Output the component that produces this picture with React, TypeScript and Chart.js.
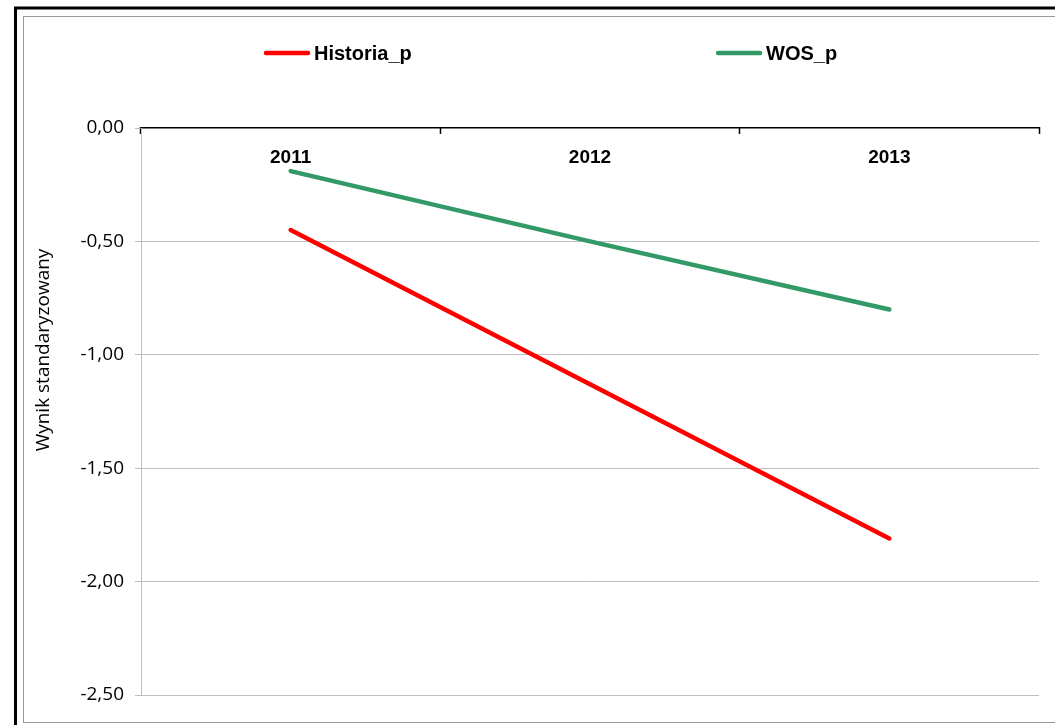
import React, { useEffect, useRef } from "react";
import { Chart, registerables } from "chart.js";

Chart.register(...registerables);

const categories = ["2011", "2012", "2013"];
const historiaP = [-0.45, -1.13, -1.81];
const wosP = [-0.19, -0.5, -0.8];
const seriesNames = ["Historia_p", "WOS_p"];
const seriesColors = ["#FF0000", "#339966"];
const yMin = -2.5;
const yMax = 0;
const yStep = 0.5;
const yAxisTitle = "Wynik standaryzowany";

const legendItemX = [264, 716];
const legendY = 53;
const legendLineLength = 46;

const framePlugin = {
  id: "frame",
  beforeDraw(chart: any) {
    const ctx = chart.ctx;
    ctx.save();
    ctx.fillStyle = "#fff";
    ctx.fillRect(0, 0, chart.width, chart.height);
    ctx.strokeStyle = "#000";
    ctx.lineWidth = 3;
    ctx.strokeRect(15.5, 8, chart.width + 50, chart.height + 50);
    ctx.strokeStyle = "#999";
    ctx.lineWidth = 1;
    ctx.strokeRect(23.5, 16.5, chart.width + 50, 706);
    ctx.restore();
  },
};

const legendPlugin = {
  id: "customLegend",
  afterDraw(chart: any) {
    const ctx = chart.ctx;
    chart.data.datasets.forEach((ds: any, i: number) => {
      const x = legendItemX[i];
      ctx.save();
      ctx.strokeStyle = ds.borderColor;
      ctx.lineWidth = 4.5;
      ctx.lineCap = "round";
      ctx.beginPath();
      ctx.moveTo(x + 2, legendY);
      ctx.lineTo(x + legendLineLength - 2, legendY);
      ctx.stroke();
      ctx.fillStyle = "#000";
      ctx.font = 'bold 20px "Liberation Sans", Arial, sans-serif';
      ctx.textBaseline = "middle";
      ctx.textAlign = "left";
      ctx.fillText(ds.label, x + legendLineLength + 4, legendY + 1);
      ctx.restore();
    });
  },
};

const yTitlePlugin = {
  id: "yTitle",
  afterDraw(chart: any) {
    const ctx = chart.ctx;
    ctx.save();
    ctx.translate(44, 350);
    ctx.rotate(-Math.PI / 2);
    ctx.fillStyle = "#000";
    ctx.font = '19px "Open Sans", sans-serif';
    ctx.textAlign = "center";
    ctx.textBaseline = "middle";
    ctx.fillText(yAxisTitle, 0, 0);
    ctx.restore();
  },
};

export default function App() {
  const canvasRef = useRef<HTMLCanvasElement | null>(null);

  useEffect(() => {
    if (!canvasRef.current) return;
    const chart = new Chart(canvasRef.current, {
      type: "line",
      data: {
        labels: categories,
        datasets: [
          {
            label: seriesNames[0],
            data: historiaP,
            borderColor: seriesColors[0],
            backgroundColor: seriesColors[0],
          },
          {
            label: seriesNames[1],
            data: wosP,
            borderColor: seriesColors[1],
            backgroundColor: seriesColors[1],
          },
        ],
      },
      options: {
        responsive: false,
        animation: false,
        layout: { padding: { left: 0, right: 16, top: 0, bottom: 30 } },
        plugins: {
          legend: { display: false },
          tooltip: { enabled: false },
        },
        elements: {
          point: { radius: 0 },
          line: {
            tension: 0,
            borderWidth: 4.5,
            borderCapStyle: "round",
            borderJoinStyle: "round",
          },
        },
        scales: {
          x: {
            type: "category",
            position: "top",
            offset: true,
            grid: {
              offset: true,
              drawOnChartArea: false,
              drawTicks: true,
              tickLength: -6,
              tickColor: "#000",
              tickWidth: 1.5,
            },
            border: { display: true, color: "#000", width: 1.5 },
            ticks: {
              mirror: true,
              padding: 18,
              color: "#000",
              autoSkip: false,
              maxRotation: 0,
              font: { family: '"Liberation Sans", Arial, sans-serif', size: 19, weight: "bold" },
            },
            afterFit: (s: any) => {
              s.height = 128;
            },
          },
          y: {
            min: yMin,
            max: yMax,
            ticks: {
              stepSize: yStep,
              padding: 11,
              color: "#000",
              font: { family: '"Open Sans", sans-serif', size: 19 },
              callback: (v: any) => Number(v).toFixed(2).replace(".", ","),
            },
            grid: {
              color: (c: any) =>
                c.tick && Math.abs(c.tick.value) < 1e-9 ? "rgba(0,0,0,0)" : "#BFBFBF",
              tickColor: "#BFBFBF",
              tickLength: 6,
              lineWidth: 1,
            },
            border: { color: "#BFBFBF", width: 1 },
            afterFit: (s: any) => {
              s.width = 141;
            },
          },
        },
      } as any,
      plugins: [framePlugin, legendPlugin, yTitlePlugin],
    });
    return () => chart.destroy();
  }, []);

  return (
    <div style={{ position: "fixed", left: 0, top: 0, width: 1055, height: 725, background: "#fff" }}>
      <canvas ref={canvasRef} width={1055} height={725} style={{ display: "block" }} />
    </div>
  );
}
